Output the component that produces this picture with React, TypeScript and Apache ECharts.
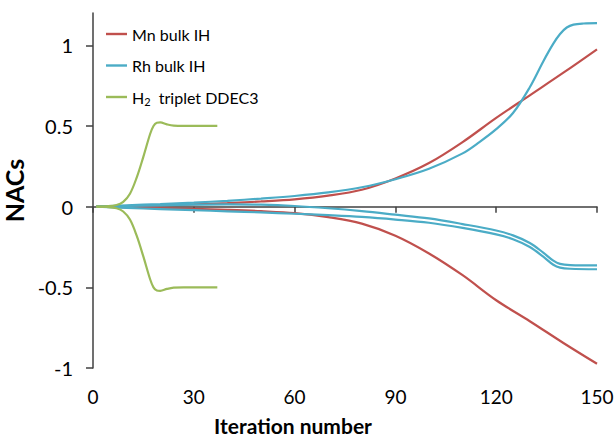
import React, { useEffect, useRef } from "react";
import * as echarts from "echarts";

// ---- data ----
const X_MAIN = [1, 10, 20, 30, 40, 50, 60, 70, 80, 90, 100, 110, 120, 130, 140, 150];
const MN_UP = [0, 0.003, 0.008, 0.014, 0.022, 0.032, 0.045, 0.068, 0.105, 0.175, 0.27, 0.4, 0.55, 0.69, 0.83, 0.975];
const MN_DN = [0, -0.004, -0.009, -0.014, -0.02, -0.028, -0.04, -0.065, -0.105, -0.18, -0.29, -0.425, -0.58, -0.71, -0.845, -0.974];

const X_RH_UP = [1, 10, 20, 30, 40, 50, 60, 70, 80, 90, 100, 110, 115, 120, 125, 130, 134, 137, 139, 141, 143, 146, 150];
const RH_UP = [0, 0.008, 0.016, 0.025, 0.036, 0.05, 0.066, 0.088, 0.12, 0.17, 0.235, 0.33, 0.4, 0.48, 0.58, 0.74, 0.9, 1.01, 1.07, 1.11, 1.128, 1.135, 1.137];

const X_RH_DN = [1, 10, 20, 30, 40, 50, 60, 70, 80, 90, 100, 110, 120, 125, 130, 134, 137, 139, 142, 150];
const RH_DN_A = [0, 0.004, 0.008, 0.012, 0.014, 0.012, 0.004, -0.01, -0.028, -0.05, -0.073, -0.108, -0.148, -0.178, -0.225, -0.285, -0.335, -0.355, -0.362, -0.364];
const RH_DN_B = [0, -0.008, -0.015, -0.022, -0.029, -0.036, -0.044, -0.053, -0.064, -0.08, -0.1, -0.132, -0.172, -0.202, -0.25, -0.31, -0.36, -0.378, -0.385, -0.388];

const X_H2 = [1, 4, 7, 9, 11, 13, 15, 17, 18, 19, 20, 22, 24, 27, 30, 37];
const H2_UP = [0, 0.002, 0.01, 0.03, 0.08, 0.18, 0.31, 0.45, 0.5, 0.52, 0.522, 0.51, 0.502, 0.5, 0.5, 0.5];
const H2_DN = [0, -0.002, -0.01, -0.03, -0.08, -0.18, -0.31, -0.45, -0.5, -0.52, -0.522, -0.51, -0.502, -0.5, -0.5, -0.5];

const X_TICKS = [0, 30, 60, 90, 120, 150];
const Y_TICKS = [-1, -0.5, 0, 0.5, 1];

const NAME_MN = "Mn bulk IH";
const NAME_RH = "Rh bulk IH";
const NAME_H2 = "H2 triplet DDEC3";

const COLOR_MN = "#C0504D";
const COLOR_RH = "#4BACC6";
const COLOR_H2 = "#9BBB59";

const FONT = "Lato";

function pairs(xs: number[], ys: number[]) {
  return xs.map((x, i) => [x, ys[i]]);
}

function lineSeries(name: string, color: string, data: number[][], width = 2.2) {
  return {
    type: "line",
    name,
    data,
    smooth: 0.35,
    symbol: "none",
    showSymbol: false,
    lineStyle: { color, width },
    itemStyle: { color },
    emphasis: { disabled: true },
  };
}

export default function App() {
  const ref = useRef<HTMLDivElement>(null);
  useEffect(() => {
    if (!ref.current) return;
    const chart = echarts.init(ref.current, null, { renderer: "svg" });
    chart.setOption({
      animation: false,
      textStyle: { fontFamily: FONT },
      grid: { left: 93, right: 19, top: 13, bottom: 70, containLabel: false, outerBoundsMode: "none" },
      legend: {
        orient: "vertical",
        left: 101,
        top: 21,
        icon: "rect",
        itemWidth: 21,
        itemHeight: 2.4,
        itemGap: 15.5,
        data: [NAME_MN, NAME_RH, NAME_H2],
        formatter: (n: string) =>
          n === NAME_H2 ? "{n|H}{s|2}{n|  triplet DDEC3}" : "{n|" + n + "}",
        textStyle: {
          color: "#000",
          fontFamily: FONT,
          rich: {
            n: { fontSize: 16, fontFamily: FONT, color: "#000", lineHeight: 20 },
            s: { fontSize: 11, fontFamily: FONT, color: "#000", verticalAlign: "bottom", lineHeight: 13 },
          },
        },
      },
      xAxis: {
        type: "value",
        min: 0,
        max: 150,
        interval: 30,
        name: "Iteration number",
        nameLocation: "middle",
        nameGap: 47,
        nameTextStyle: { fontSize: 21, fontWeight: "bold", color: "#000", fontFamily: FONT, padding: [0, 104, 0, 0] },
        axisLine: { show: true, lineStyle: { color: "#404040", width: 1.5 } },
        axisTick: { show: true, length: 6, inside: false, lineStyle: { color: "#404040", width: 1.5 }, customValues: X_TICKS },
        axisLabel: { fontSize: 19, color: "#000", margin: 19, fontFamily: FONT, customValues: X_TICKS },
        splitLine: { show: false },
      },
      yAxis: {
        type: "value",
        min: -1,
        max: 1.2,
        interval: 0.5,
        name: "NACs",
        nameLocation: "middle",
        nameRotate: 90,
        nameGap: 58,
        nameTextStyle: { fontSize: 25, fontWeight: "bold", color: "#000", fontFamily: FONT },
        axisLine: { show: true, lineStyle: { color: "#404040", width: 1.5 } },
        axisTick: { show: true, length: 7, inside: false, lineStyle: { color: "#404040", width: 1.5 }, customValues: Y_TICKS },
        axisLabel: { fontSize: 20, color: "#000", margin: 20, fontFamily: FONT, customValues: Y_TICKS },
        splitLine: { show: false },
      },
      series: [
        lineSeries(NAME_MN, COLOR_MN, pairs(X_MAIN, MN_UP)),
        lineSeries(NAME_MN, COLOR_MN, pairs(X_MAIN, MN_DN)),
        lineSeries(NAME_RH, COLOR_RH, pairs(X_RH_UP, RH_UP)),
        lineSeries(NAME_RH, COLOR_RH, pairs(X_RH_DN, RH_DN_A)),
        lineSeries(NAME_RH, COLOR_RH, pairs(X_RH_DN, RH_DN_B)),
        lineSeries(NAME_H2, COLOR_H2, pairs(X_H2, H2_UP)),
        lineSeries(NAME_H2, COLOR_H2, pairs(X_H2, H2_DN)),
      ],
    });
    return () => chart.dispose();
  }, []);
  return (
    <div
      ref={ref}
      style={{ position: "fixed", left: 0, top: 0, width: 616, height: 438, background: "#fff" }}
    />
  );
}
